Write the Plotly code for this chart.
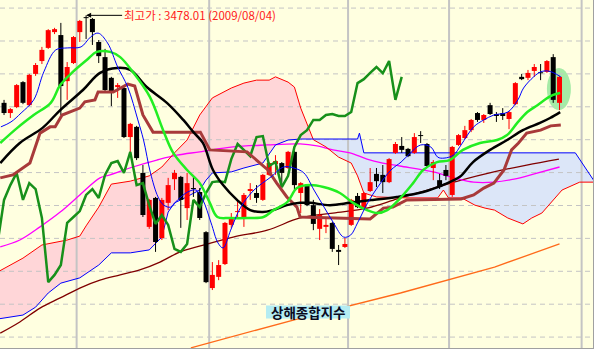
import plotly.graph_objects as go

# ---------------- data ----------------
idx = list(range(-12, 77))  # trading-day index, 0 = 2009-08-03
opens = [3212, 3181, 3199, 3275, 3205, 3300, 3339, 3379, 3427, 3418, 3278, 3333,
         3427, 3472, 3467, 3397, 3351, 3288, 3260, 3257, 3108, 3139, 2999, 2835,
         2923, 2801, 2908, 2980, 2987, 2892, 2953, 2941, 2819, 2649, 2683, 2722,
         2841, 2880, 2865, 2944, 2938, 2917, 2993, 3026, 3029, 3014, 3063, 2938,
         2962, 2901, 2829, 2835, 2847, 2765, 2774, 2841, 2929, 2892, 2944, 2996,
         2993, 2971, 3060, 3081, 3072, 3060, 3114, 3087, 3014, 2977, 3008, 2932,
         3084, 3105, 3129, 3181, 3160, 3205, 3178, 3181, 3163, 3208, 3291, 3288,
         3309, 3305, 3306, 3351, 3212]
highs = [3221, 3196, 3269, 3278, 3300, 3333, 3382, 3436, 3440, 3455, 3336, 3415,
         3464, 3478, 3470, 3403, 3376, 3291, 3272, 3260, 3151, 3142, 3023, 2920,
         2926, 2923, 2984, 3008, 2990, 2999, 2987, 2953, 2822, 2728, 2734, 2850,
         2877, 2914, 2938, 2968, 2962, 2996, 3032, 3053, 3032, 3066, 3066, 2971,
         2965, 2917, 2889, 2862, 2850, 2780, 2801, 2920, 2938, 2941, 3014, 3014,
         3023, 3044, 3093, 3108, 3075, 3120, 3126, 3090, 3038, 2996, 3023, 3081,
         3117, 3142, 3163, 3184, 3178, 3212, 3184, 3196, 3187, 3275, 3300, 3312,
         3330, 3330, 3342, 3360, 3294]
lows = [3175, 3166, 3196, 3208, 3202, 3294, 3330, 3376, 3421, 3175, 3221, 3330,
        3397, 3406, 3388, 3333, 3245, 3202, 3227, 3105, 3047, 3038, 2865, 2829,
        2759, 2795, 2886, 2947, 2832, 2856, 2926, 2856, 2664, 2643, 2673, 2719,
        2832, 2862, 2835, 2917, 2908, 2914, 2990, 2993, 2962, 3011, 2947, 2877,
        2898, 2825, 2795, 2816, 2759, 2719, 2771, 2838, 2892, 2889, 2941, 2956,
        2938, 2968, 3057, 3060, 3047, 3057, 3090, 3017, 2977, 2950, 2977, 2926,
        3081, 3102, 3123, 3154, 3151, 3175, 3154, 3160, 3132, 3205, 3281, 3281,
        3291, 3281, 3303, 3212, 3190]
closes = [3181, 3193, 3266, 3212, 3297, 3327, 3373, 3433, 3436, 3263, 3321, 3412,
          3461, 3470, 3427, 3354, 3251, 3245, 3266, 3108, 3148, 3044, 2871, 2917,
          2789, 2917, 2962, 2999, 2917, 2968, 2950, 2862, 2667, 2689, 2719, 2847,
          2865, 2883, 2932, 2950, 2923, 2993, 3029, 3035, 2999, 3063, 2962, 2968,
          2901, 2844, 2871, 2841, 2768, 2759, 2783, 2917, 2895, 2938, 2971, 2974,
          2971, 3041, 3087, 3069, 3050, 3108, 3111, 3020, 3032, 2956, 2990, 3078,
          3114, 3129, 3160, 3160, 3175, 3178, 3172, 3172, 3184, 3272, 3284, 3303,
          3321, 3302, 3339, 3221, 3291]

month_first_idx = [0, 21, 43, 59, 80]
chikou_shift = 25

ma5_x = [-12.5, -10.9, -9.3, -7.3, -5.7, -3.8, -1.9, 0.2, 1.7, 2.9, 4.4, 6.0, 7.6, 9.2,
         10.1, 11.2, 12.4, 13.3, 14.4, 15.5, 17.1, 18.4, 19.5, 20.8, 21.9, 22.7, 23.9,
         25.5, 27.6, 30.3, 32.3, 33.9, 35.5, 37.1, 38.7, 40.2, 41.8, 42.9, 44.0, 45.6,
         47.2, 49.3, 50.9, 52.4, 54.0, 55.6, 56.7, 57.7, 59.2, 60.4, 62.4, 64.0, 65.6,
         67.8, 69.4, 70.3, 71.9, 73.0, 74.1, 75.1, 76.2]
ma5_v = [3139, 3154, 3181, 3221, 3306, 3373, 3379, 3382, 3412, 3424, 3394, 3321, 3260,
         3160, 3099, 2999, 2926, 2901, 2895, 2917, 2941, 2947, 2917, 2847, 2786, 2771,
         2825, 2895, 2947, 2987, 3017, 3014, 2999, 2947, 2895, 2847, 2804, 2810, 2847,
         2908, 2956, 3008, 3032, 3060, 3084, 3078, 3047, 3044, 3053, 3084, 3139, 3160,
         3175, 3184, 3221, 3257, 3291, 3306, 3309, 3303, 3291]

ma20_x = [-12.6, -9.9, -7.3, -4.6, -3.1, -1.1, 1.1, 2.7, 4.8, 6.4, 8.4, 11.1, 13.2, 14.8,
          17.0, 19.0, 20.6, 21.8, 23.8, 26.5, 29.1, 30.7, 32.9, 34.4, 36.5, 38.6, 41.2,
          43.3, 45.5, 47.1, 48.7, 50.8, 52.8, 54.4, 56.6, 58.6, 60.7, 63.4, 66.1, 67.7,
          69.3, 70.9, 72.5, 74.1, 75.0, 76.1]
ma20_v = [3090, 3136, 3175, 3212, 3266, 3306, 3342, 3367, 3367, 3351, 3306, 3230, 3129,
          3060, 3008, 2968, 2908, 2865, 2862, 2862, 2865, 2886, 2911, 2953, 2962, 2956,
          2938, 2908, 2886, 2877, 2886, 2923, 2968, 3008, 3032, 3038, 3069, 3090, 3099,
          3114, 3151, 3184, 3205, 3227, 3236, 3242]

ma60_x = [-12.6, -9.5, -5.9, -3.1, 0.5, 3.2, 5.9, 8.0, 10.6, 13.8, 16.4, 18.0, 19.5,
          21.1, 22.7, 24.9, 27.0, 29.0, 30.6, 32.8, 34.9, 36.5, 39.6, 42.8, 46.4, 50.2,
          54.4, 57.5, 60.2, 62.3, 65.0, 67.7, 70.2, 72.9, 74.5, 76.1]
ma60_v = [3029, 3090, 3136, 3190, 3251, 3303, 3318, 3312, 3260, 3212, 3160, 3123, 3090,
          3008, 2962, 2917, 2886, 2880, 2886, 2901, 2908, 2908, 2901, 2908, 2917, 2926,
          2941, 2962, 2987, 3032, 3069, 3099, 3129, 3151, 3166, 3184]

base_x = [-12.6, -10.6, -7.9, -6.3, -4.7, -3.9, -2.8, -1.6, 0.0, 0.8, 2.4, 2.9, 5.3, 7.6,
          8.7, 10.0, 11.6, 19.1, 20.6, 26.5, 28.0, 29.8, 31.2, 32.8, 34.4, 34.9, 46.0,
          48.1, 49.6, 51.8, 60.4, 62.4, 64.0, 65.6, 67.2, 68.4, 69.5, 70.8, 73.0, 74.6,
          76.2]
base_v = [2984, 2993, 3029, 3120, 3139, 3139, 3175, 3184, 3196, 3215, 3221, 3245, 3245,
          3269, 3263, 3175, 3123, 3123, 3069, 3063, 3038, 3008, 2968, 2926, 2895, 2865,
          2859, 2892, 2895, 2917, 2920, 2932, 2953, 2968, 3008, 3069, 3090, 3120, 3129,
          3142, 3145]

ma120_x = [-12.6, -9.5, -6.3, -3.1, 0.0, 3.2, 4.8, 8.4, 12.2, 15.4, 19.0, 24.3, 29.7,
           34.9, 37.6, 40.1, 42.8, 45.5, 48.0, 50.7, 56.0, 59.3, 62.4, 65.6, 68.8, 72.0,
           76.0]
ma120_v = [2774, 2795, 2835, 2880, 2932, 2984, 2993, 3017, 3038, 3053, 3063, 3078, 3084,
           3087, 3081, 3069, 3060, 3041, 3029, 3020, 3002, 2984, 2971, 2971, 2980, 2996,
           3017]

ma240_x = [-12.6, -9.5, -6.3, -3.1, 0.0, 3.2, 6.4, 9.5, 12.7, 15.9, 19.1, 24.3, 29.7,
           34.9, 40.1, 45.5, 50.3, 55.1, 60.4, 65.6, 70.8, 75.9]
ma240_v = [2512, 2546, 2588, 2619, 2649, 2673, 2689, 2704, 2728, 2759, 2777, 2804, 2825,
           2862, 2877, 2892, 2920, 2947, 2977, 3002, 3023, 3041]

trend_x = [17.6, 35.0, 50.8, 65.7, 76.0]
trend_v = [2467, 2558, 2634, 2713, 2783]

span_a_x = [-13, -9, -6, -2, 0, 1, 3, 5, 8, 11, 13, 15, 17, 19, 21, 24, 26, 28, 30, 31,
            33, 34, 35, 37, 39, 41, 43, 44, 45, 47, 52, 56.7, 57.6, 58.4, 60.5, 62.6,
            64.2, 65.7, 67.8, 70.2, 71.6, 73.2, 76.4, 79.2, 81.6]
span_a_v = [2698, 2740, 2780, 2795, 2807, 2838, 2895, 2965, 2974, 2990, 3017, 3060, 3099,
            3175, 3227, 3257, 3272, 3281, 3281, 3291, 3275, 3260, 3196, 3100, 3078, 3047,
            3029, 2990, 2938, 2926, 2923, 2923, 2947, 2923, 2923, 2901, 2892, 2886, 2862,
            2844, 2862, 2877, 2947, 2971, 2971]
span_b_x = [-13, -9, -7, -5, -3, 0, 3, 5, 8, 11, 13, 14, 15, 16, 19, 20, 21, 24, 26, 29,
            31, 33, 35, 37, 44, 44.3, 45, 78.5, 81.6]
span_b_v = [2555, 2567, 2591, 2634, 2664, 2680, 2719, 2756, 2756, 2765, 2804, 2880, 2908,
            2917, 2947, 2977, 2999, 3002, 3014, 3029, 3084, 3099, 3102, 3102, 3102, 3120,
            3060, 3060, 2971]
cloud_cross_x = 37

peak_idx = 1
peak_value = 3478.01
peak_label = "최고가 : 3478.01 (2009/08/04)"
title_label = "상해종합지수"

# ---------------- figure ----------------
X_MIN, X_MAX = -12.64, 81.46
Y_MIN, Y_MAX = 2463.8, 3524.6
BG = "#FFFFE0"
W, H = 594, 349

fig = go.Figure()

# cloud fills
pa = [(x, v) for x, v in zip(span_a_x, span_a_v) if x <= cloud_cross_x]
pb = [(x, v) for x, v in zip(span_b_x, span_b_v) if x <= cloud_cross_x]
poly = pa + pb[::-1]
fig.add_trace(go.Scatter(x=[p[0] for p in poly], y=[p[1] for p in poly], fill="toself",
                         fillcolor="#FFD6D8", line=dict(width=0), mode="lines",
                         hoverinfo="skip"))
pa = [(x, v) for x, v in zip(span_a_x, span_a_v) if x >= cloud_cross_x]
pb = [(x, v) for x, v in zip(span_b_x, span_b_v) if x >= cloud_cross_x]
poly = pb + pa[::-1]
fig.add_trace(go.Scatter(x=[p[0] for p in poly], y=[p[1] for p in poly], fill="toself",
                         fillcolor="#DCE6F8", line=dict(width=0), mode="lines",
                         hoverinfo="skip"))

# grid (drawn as traces so they show over the cloud)
gx, gy = [], []
for v in range(2500, 3600, 100):
    gx += [X_MIN, X_MAX, None]
    gy += [v, v, None]
fig.add_trace(go.Scatter(x=gx, y=gy, mode="lines",
                         line=dict(color="#C4C4C4", width=1, dash="5px,4px"),
                         hoverinfo="skip"))
mx, my = [], []
for m in month_first_idx:
    mx += [m - 0.5, m - 0.5, None]
    my += [Y_MIN, Y_MAX, None]
fig.add_trace(go.Scatter(x=mx, y=my, mode="lines",
                         line=dict(color="#C4C4C4", width=2), hoverinfo="skip"))

# long averages
fig.add_trace(go.Scatter(x=trend_x, y=trend_v, mode="lines",
                         line=dict(color="#FF6A1A", width=1.3)))
fig.add_trace(go.Scatter(x=ma240_x, y=ma240_v, mode="lines", line_shape="spline",
                         line=dict(color="#800000", width=1.3)))
fig.add_trace(go.Scatter(x=ma120_x, y=ma120_v, mode="lines", line_shape="spline",
                         line=dict(color="#FF00FF", width=1.3)))
# cloud edges
fig.add_trace(go.Scatter(x=span_a_x, y=span_a_v, mode="lines",
                         line=dict(color="#FF0000", width=1)))
fig.add_trace(go.Scatter(x=span_b_x, y=span_b_v, mode="lines",
                         line=dict(color="#0000FF", width=1)))

# candles (wicks + bodies as scatter segments so they sit above the cloud fill)
up = [c >= o for o, c in zip(opens, closes)]
for want_up, col in ((True, "#FF0000"), (False, "#000000")):
    wx, wy, bx, by = [], [], [], []
    for i, o, h, l, c, u in zip(idx, opens, highs, lows, closes, up):
        if u != want_up:
            continue
        wx += [i, i, None]
        wy += [l, h, None]
        lo, hi = min(o, c), max(o, c)
        if hi - lo < 3:
            mid = (hi + lo) / 2
            lo, hi = mid - 1.5, mid + 1.5
        bx += [i, i, None]
        by += [lo, hi, None]
    fig.add_trace(go.Scatter(x=wx, y=wy, mode="lines", line=dict(color=col, width=1),
                             hoverinfo="skip"))
    fig.add_trace(go.Scatter(x=bx, y=by, mode="lines", line=dict(color=col, width=5),
                             hoverinfo="skip"))

# lagging span
fig.add_trace(go.Scatter(x=[i - chikou_shift for i in idx], y=closes, mode="lines",
                         line=dict(color="#17901A", width=2.5)))
fig.add_trace(go.Scatter(x=base_x, y=base_v, mode="lines",
                         line=dict(color="#A83A3A", width=3)))
fig.add_trace(go.Scatter(x=ma60_x, y=ma60_v, mode="lines", line_shape="spline",
                         line=dict(color="#000000", width=2.5)))
fig.add_trace(go.Scatter(x=ma20_x, y=ma20_v, mode="lines", line_shape="spline",
                         line=dict(color="#22EE22", width=2.5)))
fig.add_trace(go.Scatter(x=ma5_x, y=ma5_v, mode="lines", line_shape="spline",
                         line=dict(color="#0000FF", width=1)))

# highlight around last candles
last = idx[-1]
fig.add_shape(type="circle", xref="x", yref="y", layer="below",
              x0=last - 2.0, x1=last + 1.8, y0=3190, y1=3318,
              fillcolor="#A6EBA6", line=dict(width=0))

# border
fig.add_shape(type="line", xref="paper", yref="paper", x0=1, x1=1, y0=0, y1=1,
              line=dict(color="#A0A0A0", width=2))
fig.add_shape(type="line", xref="paper", yref="paper", x0=0, x1=1, y0=0, y1=0,
              line=dict(color="#A0A0A0", width=2))

fig.add_annotation(x=peak_idx, y=peak_value, xref="x", yref="y", text=peak_label,
                   showarrow=True, ax=36, ay=0, xanchor="left",
                   arrowhead=2, arrowsize=1, arrowwidth=1, arrowcolor="#000000",
                   font=dict(family="Noto Sans CJK KR", size=11.5, color="#FF1A1A"))

# title label with its cyan box
fig.add_shape(type="rect", xref="paper", yref="paper", layer="above",
              x0=266 / W, x1=350 / W, y0=1 - 318.5 / H, y1=1 - 305.5 / H,
              fillcolor="#B4ECF2", line=dict(width=0))
fig.add_annotation(x=308 / W, y=1 - 312 / H, xref="paper", yref="paper",
                   text="<b>" + title_label + "</b>", showarrow=False,
                   xanchor="center", yanchor="middle",
                   font=dict(family="Noto Sans CJK KR", size=13.5, color="#0A0A1E"))

fig.update_layout(
    width=W, height=H, margin=dict(l=0, r=0, t=0, b=0),
    paper_bgcolor=BG, plot_bgcolor=BG, showlegend=False,
    xaxis=dict(range=[X_MIN, X_MAX], visible=False, fixedrange=True),
    yaxis=dict(range=[Y_MIN, Y_MAX], visible=False, fixedrange=True),
)
fig.write_html("out.html")
